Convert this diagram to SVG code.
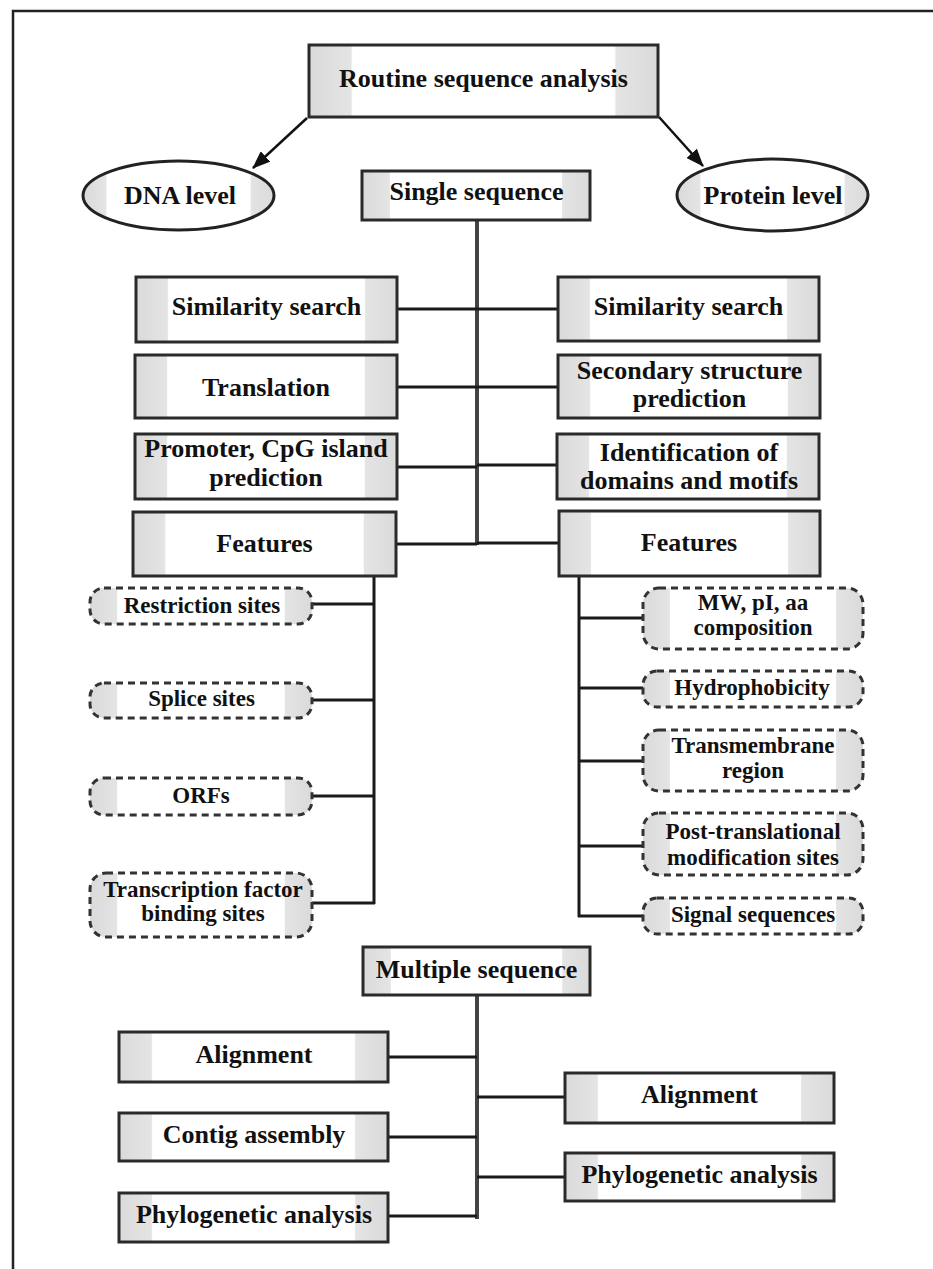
<svg xmlns="http://www.w3.org/2000/svg" width="933" height="1269" viewBox="0 0 933 1269">
<defs>
<linearGradient id="g" x1="0" y1="0" x2="1" y2="0">
<stop offset="0" stop-color="#dadada"/>
<stop offset="0.12" stop-color="#e4e4e4"/>
<stop offset="0.125" stop-color="#ffffff"/>
<stop offset="0.875" stop-color="#ffffff"/>
<stop offset="0.88" stop-color="#e4e4e4"/>
<stop offset="1" stop-color="#dadada"/>
</linearGradient>
<marker id="ah" markerUnits="userSpaceOnUse" markerWidth="18" markerHeight="14" refX="17" refY="7" orient="auto">
<path d="M0,0 L18,7 L0,14 z" fill="#111"/>
</marker>
<style>
.box{stroke:#2a2a2a;stroke-width:3;fill:url(#g)}
.dot{stroke:#333;stroke-width:3;stroke-dasharray:7 5;fill:url(#g)}
.ell{stroke:#222;stroke-width:3;fill:url(#g)}
.t{font-family:"Liberation Serif","Times New Roman",serif;font-weight:bold;font-size:26px;fill:#111;text-anchor:middle}
.s{font-size:23px}
.c{stroke:#1a1a1a;stroke-width:3;fill:none}
.k{stroke:#444;stroke-width:4;fill:none}
.a{stroke:#111;stroke-width:2.5;fill:none}
</style>
</defs>
<rect x="13" y="11" width="940" height="1300" fill="#fff" stroke="#222" stroke-width="2.5"/>

<g id="connectors">
<line class="a" x1="307" y1="118" x2="253" y2="168" marker-end="url(#ah)"/>
<line class="a" x1="659" y1="117" x2="703" y2="166" marker-end="url(#ah)"/>
<line class="k" x1="477" y1="220" x2="477" y2="545"/>
<line class="c" x1="397" y1="309" x2="477" y2="309"/>
<line class="c" x1="397" y1="387" x2="477" y2="387"/>
<line class="c" x1="397" y1="467" x2="477" y2="467"/>
<line class="c" x1="396" y1="544" x2="477" y2="544"/>
<line class="c" x1="477" y1="309" x2="558" y2="309"/>
<line class="c" x1="477" y1="387" x2="558" y2="387"/>
<line class="c" x1="477" y1="465" x2="557" y2="465"/>
<line class="c" x1="477" y1="543" x2="559" y2="543"/>
<line class="c" x1="374" y1="576" x2="374" y2="904" stroke-width="2"/>
<line class="c" x1="312" y1="604" x2="374" y2="604"/>
<line class="c" x1="312" y1="700" x2="374" y2="700"/>
<line class="c" x1="312" y1="796" x2="374" y2="796"/>
<line class="c" x1="312" y1="903" x2="375" y2="903"/>
<line class="c" x1="579" y1="576" x2="579" y2="917"/>
<line class="c" x1="579" y1="618" x2="643" y2="618"/>
<line class="c" x1="579" y1="688" x2="643" y2="688"/>
<line class="c" x1="579" y1="761" x2="643" y2="761"/>
<line class="c" x1="579" y1="846" x2="643" y2="846"/>
<line class="c" x1="578" y1="916" x2="643" y2="916"/>
<line class="k" x1="477" y1="995" x2="477" y2="1219"/>
<line class="c" x1="388" y1="1057" x2="477" y2="1057"/>
<line class="c" x1="388" y1="1137" x2="477" y2="1137"/>
<line class="c" x1="388" y1="1216" x2="477" y2="1216"/>
<line class="c" x1="477" y1="1097" x2="565" y2="1097"/>
<line class="c" x1="477" y1="1177" x2="565" y2="1177"/>
</g>

<g id="routine"><rect class="box" x="309" y="45" width="349" height="72"/><text class="t" x="483.5" y="87">Routine sequence analysis</text></g>
<g id="dna"><ellipse class="ell" cx="178.5" cy="195.5" rx="95.5" ry="34.5"/><text class="t" x="180" y="204">DNA level</text></g>
<g id="protein"><ellipse class="ell" cx="772.5" cy="195" rx="95.5" ry="36"/><text class="t" x="773" y="204">Protein level</text></g>
<g id="single"><rect class="box" x="362" y="171" width="228" height="49"/><text class="t" x="476.5" y="200">Single sequence</text></g>

<g id="l-sim"><rect class="box" x="136" y="277" width="261" height="65"/><text class="t" x="266.5" y="315">Similarity search</text></g>
<g id="l-trans"><rect class="box" x="135" y="355" width="262" height="63"/><text class="t" x="266" y="396">Translation</text></g>
<g id="l-prom"><rect class="box" x="135" y="434" width="262" height="65"/><text class="t" x="266" y="457">Promoter, CpG island</text><text class="t" x="266" y="486">prediction</text></g>
<g id="l-feat"><rect class="box" x="133" y="512" width="263" height="64"/><text class="t" x="264.5" y="552">Features</text></g>

<g id="r-sim"><rect class="box" x="558" y="277" width="261" height="64"/><text class="t" x="688.5" y="315">Similarity search</text></g>
<g id="r-sec"><rect class="box" x="558" y="355" width="262" height="63"/><text class="t" x="689.5" y="379">Secondary structure</text><text class="t" x="689.5" y="407">prediction</text></g>
<g id="r-ident"><rect class="box" x="557" y="434" width="262" height="65"/><text class="t" x="689" y="461">Identification of</text><text class="t" x="689" y="489">domains and motifs</text></g>
<g id="r-feat"><rect class="box" x="559" y="511" width="261" height="65"/><text class="t" x="689" y="551">Features</text></g>

<g id="restr"><rect class="dot" x="90" y="588" width="222" height="36" rx="14"/><text class="t s" x="202" y="613">Restriction sites</text></g>
<g id="splice"><rect class="dot" x="90" y="683" width="222" height="35" rx="14"/><text class="t s" x="201.5" y="706">Splice sites</text></g>
<g id="orfs"><rect class="dot" x="90" y="778" width="222" height="37" rx="14"/><text class="t s" x="201" y="803">ORFs</text></g>
<g id="tfbs"><rect class="dot" x="90" y="873" width="222" height="64" rx="16"/><text class="t s" x="203" y="897">Transcription factor</text><text class="t s" x="203" y="921">binding sites</text></g>

<g id="mw"><rect class="dot" x="643" y="588" width="220" height="61" rx="16"/><text class="t s" x="753" y="610">MW, pI, aa</text><text class="t s" x="753" y="635">composition</text></g>
<g id="hydro"><rect class="dot" x="643" y="671" width="220" height="36" rx="14"/><text class="t s" x="752" y="695">Hydrophobicity</text></g>
<g id="tm"><rect class="dot" x="643" y="730" width="220" height="61" rx="16"/><text class="t s" x="753" y="753">Transmembrane</text><text class="t s" x="753" y="778">region</text></g>
<g id="ptm"><rect class="dot" x="643" y="813" width="220" height="62" rx="16"/><text class="t s" x="753" y="839">Post-translational</text><text class="t s" x="753" y="865">modification sites</text></g>
<g id="signal"><rect class="dot" x="643" y="898" width="220" height="36" rx="14"/><text class="t s" x="753" y="922">Signal sequences</text></g>

<g id="multiple"><rect class="box" x="363" y="947" width="227" height="48"/><text class="t" x="476.5" y="978">Multiple sequence</text></g>
<g id="l-align"><rect class="box" x="119" y="1032" width="269" height="50"/><text class="t" x="254" y="1063">Alignment</text></g>
<g id="l-contig"><rect class="box" x="119" y="1113" width="269" height="48"/><text class="t" x="254" y="1143">Contig assembly</text></g>
<g id="l-phylo"><rect class="box" x="119" y="1193" width="269" height="49"/><text class="t" x="254" y="1223">Phylogenetic analysis</text></g>
<g id="r-align"><rect class="box" x="565" y="1073" width="269" height="50"/><text class="t" x="699.5" y="1103">Alignment</text></g>
<g id="r-phylo"><rect class="box" x="565" y="1153" width="269" height="48"/><text class="t" x="699.5" y="1183">Phylogenetic analysis</text></g>
</svg>
